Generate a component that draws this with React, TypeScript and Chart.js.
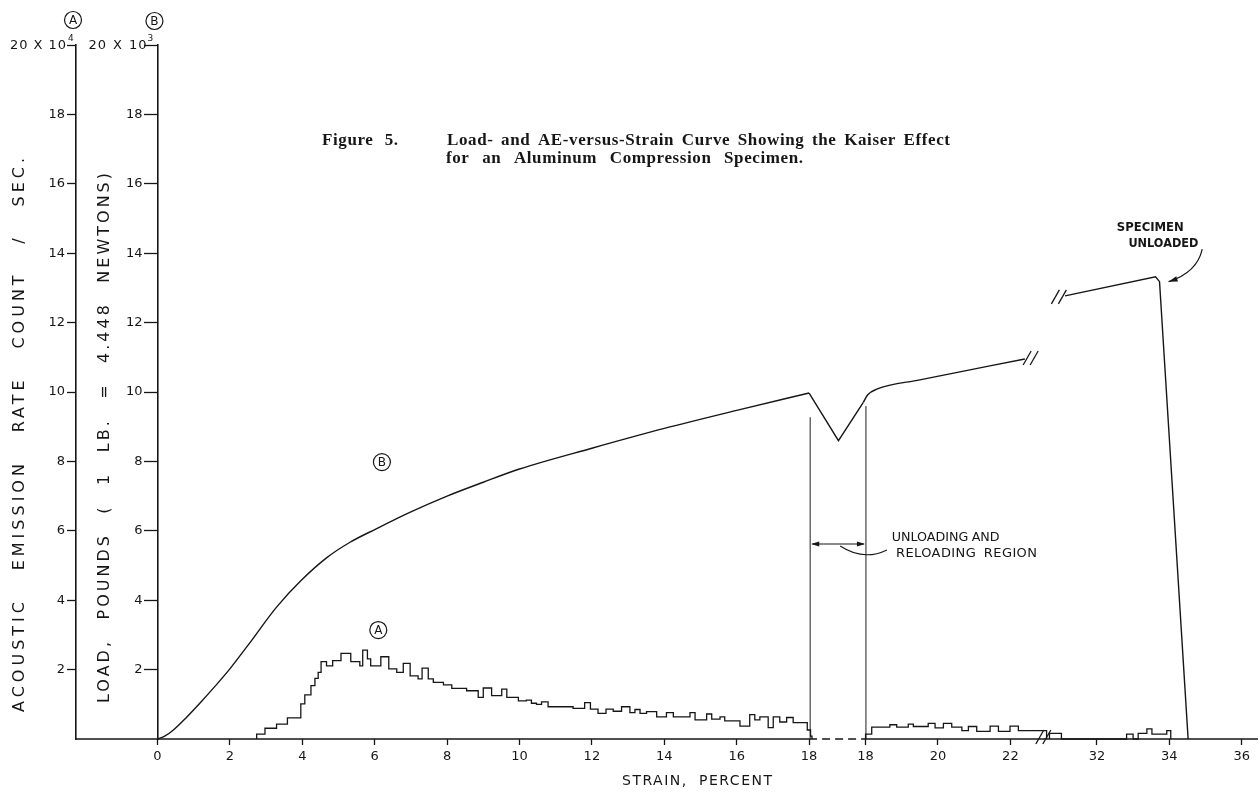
import React, { useEffect, useRef } from 'react';
import { Chart, registerables } from 'chart.js';

Chart.register(...registerables);

// ---------------- data ----------------
// Curve B: load, 10^3 lb, vs strain %, loading from 0 to 18 %
const loadStrainRise = [0, 0.2, 0.44, 0.8, 1.17, 1.6, 2.0, 2.55, 3.29, 3.98, 4.67, 5.32, 6.03, 6.97, 8.0, 9.0, 10, 12, 14, 16, 18];
const loadRise = [0, 0.08, 0.26, 0.62, 1.03, 1.53, 2.02, 2.77, 3.8, 4.58, 5.22, 5.67, 6.05, 6.53, 7.0, 7.4, 7.78, 8.38, 8.95, 9.47, 9.97];
// unloading / reloading window drawn at 18 % (position = fraction of the window)
const unloadFraction = [0, 0.52, 0.96];
const unloadLoad = [9.97, 8.6, 9.7];
// reloading, strain after the window
const reloadStrain = [18.06, 18.31, 19.5, 22.4];
const reloadLoad = [9.92, 10.08, 10.35, 10.95];
// after the axis break, until the specimen is unloaded
const finalStrain = [31.12, 33.62, 33.73, 34.52];
const finalLoad = [12.77, 13.32, 13.18, 0];

// Curve A: acoustic emission rate, 10^4 counts/sec (histogram: bin start strain, rate)
const aeStart1 = [2.74, 2.97, 3.29, 3.59, 3.96, 4.07, 4.24, 4.35, 4.44, 4.52, 4.67, 4.84, 5.07, 5.34, 5.59, 5.67, 5.8, 5.89, 6.17, 6.39, 6.61, 6.79, 6.98, 7.2, 7.31, 7.48, 7.62, 7.9, 8.13, 8.54, 8.86, 9.0, 9.23, 9.51, 9.65, 9.97, 10.19, 10.33, 10.47, 10.61, 10.79, 11.48, 11.8, 11.96, 12.17, 12.39, 12.59, 12.82, 13.05, 13.19, 13.33, 13.51, 13.79, 14.06, 14.25, 14.71, 14.85, 15.17, 15.31, 15.54, 15.67, 16.09, 16.36, 16.5, 16.64, 16.87, 17.01, 17.19, 17.38, 17.56, 17.95, 18.04];
const aeRate1 = [0.14, 0.31, 0.43, 0.61, 1.01, 1.27, 1.54, 1.75, 1.92, 2.23, 2.11, 2.26, 2.47, 2.23, 2.11, 2.56, 2.31, 2.11, 2.37, 2.02, 1.92, 2.18, 1.82, 1.73, 2.04, 1.73, 1.63, 1.56, 1.46, 1.39, 1.2, 1.47, 1.25, 1.44, 1.2, 1.1, 1.12, 1.03, 1.0, 1.07, 0.93, 0.88, 1.05, 0.86, 0.74, 0.86, 0.8, 0.93, 0.76, 0.85, 0.74, 0.79, 0.64, 0.76, 0.64, 0.76, 0.55, 0.72, 0.57, 0.64, 0.52, 0.37, 0.7, 0.55, 0.64, 0.33, 0.64, 0.49, 0.62, 0.47, 0.26, 0.08];
const aeEnd1 = 18.08;
const aeStart2 = [18.0, 18.17, 18.67, 18.86, 19.18, 19.32, 19.73, 19.92, 20.15, 20.38, 20.66, 20.84, 21.07, 21.44, 21.67, 21.99, 22.22];
const aeRate2 = [0.14, 0.34, 0.41, 0.34, 0.43, 0.36, 0.45, 0.32, 0.45, 0.34, 0.24, 0.36, 0.22, 0.37, 0.22, 0.37, 0.24];
const aeEnd2 = 23.0;
const aeStart3 = [30.69, 31.02, 32.82, 33.0, 33.14, 33.38, 33.52, 33.93];
const aeRate3 = [0.16, 0, 0.14, 0, 0.16, 0.29, 0.14, 0.24];
const aeEnd3 = 34.04;

// tick labels of the broken strain axis
const xTicksPre = [0, 2, 4, 6, 8, 10, 12, 14, 16, 18];
const xTicksPost = [18, 20, 22];
const xTicksLate = [32, 34, 36];
const yTicks = [2, 4, 6, 8, 10, 12, 14, 16, 18, 20];

// unloading markers (strain, top of the line in load units)
const markerPre = { strain: 18.03, top: 9.27 };
const markerPost = { strain: 18.01, top: 9.6 };

// ---------------- broken axis mapping ----------------
const WINDOW = 1.56; // axis room given to the unloading/reloading window
const SKIP = 6.05; // strain removed by the break after 23 %
type Part = 'pre' | 'window' | 'post' | 'late';
function ax(v: number, part: Part): number {
  if (part === 'pre') return v;
  if (part === 'window') return 18 + v * WINDOW;
  if (part === 'post') return v + WINDOW;
  return v - SKIP;
}
const X_MIN = -2.25;
const X_MAX = 30.4;

const INK = '#161616';
const LETTER = 'DejaVu Sans';
const SERIF = '"Liberation Serif"';

const pts = (xs: number[], ys: number[], part: Part) => xs.map((v, i) => ({ x: ax(v, part), y: ys[i] }));
function histogram(starts: number[], rates: number[], end: number, part: Part) {
  const out = [{ x: ax(starts[0], part), y: 0 }];
  starts.forEach((s, i) => out.push({ x: ax(s, part), y: rates[i] }));
  out.push({ x: ax(end, part), y: rates[rates.length - 1] });
  out.push({ x: ax(end, part), y: 0 });
  return out;
}

const xTickValues = [
  ...xTicksPre.map((v) => ax(v, 'pre')),
  ...xTicksPost.map((v) => ax(v, 'post')),
  ...xTicksLate.map((v) => ax(v, 'late')),
];
const xTickLabels = [...xTicksPre, ...xTicksPost, ...xTicksLate].map(String);

const unloadPts = pts(unloadFraction, unloadLoad, 'window');
const base = { borderColor: INK, borderWidth: 1.4, pointRadius: 0, fill: false, clip: false as any };

const datasets: any[] = [
  { ...base, yAxisID: 'yB', data: pts(loadStrainRise, loadRise, 'pre'), cubicInterpolationMode: 'monotone', tension: 0.4 },
  { ...base, yAxisID: 'yB', data: unloadPts, tension: 0 },
  { ...base, yAxisID: 'yB', data: [unloadPts[unloadPts.length - 1], ...pts(reloadStrain, reloadLoad, 'post')], cubicInterpolationMode: 'monotone', tension: 0.4 },
  { ...base, yAxisID: 'yB', data: pts(finalStrain, finalLoad, 'late'), tension: 0 },
  { ...base, yAxisID: 'yA', data: histogram(aeStart1, aeRate1, aeEnd1, 'pre'), stepped: 'before', borderWidth: 1.3 },
  { ...base, yAxisID: 'yA', data: histogram(aeStart2, aeRate2, aeEnd2, 'post'), stepped: 'before', borderWidth: 1.3 },
  { ...base, yAxisID: 'yA', data: histogram(aeStart3, aeRate3, aeEnd3, 'late'), stepped: 'before', borderWidth: 1.3 },
  // strain axis line (dashed across the unloading window)
  { ...base, yAxisID: 'yA', data: [{ x: X_MIN, y: 0 }, { x: ax(18, 'pre'), y: 0 }], borderWidth: 1.7 },
  { ...base, yAxisID: 'yA', data: [{ x: ax(18, 'pre'), y: 0 }, { x: ax(18, 'post'), y: 0 }], borderWidth: 1.5, borderDash: [8, 5] },
  { ...base, yAxisID: 'yA', data: [{ x: ax(18, 'post'), y: 0 }, { x: X_MAX, y: 0 }], borderWidth: 1.7 },
  // unloading / reloading region markers
  { ...base, yAxisID: 'yB', data: [{ x: ax(markerPre.strain, 'pre'), y: 0 }, { x: ax(markerPre.strain, 'pre'), y: markerPre.top }], borderWidth: 1.1, borderColor: '#333' },
  { ...base, yAxisID: 'yB', data: [{ x: ax(markerPost.strain, 'post'), y: 0 }, { x: ax(markerPost.strain, 'post'), y: markerPost.top }], borderWidth: 1.1, borderColor: '#333' },
];

// ---------------- drawing helpers ----------------
// Draws text from `left` so that it spans `width`: letters get `ls` px of spacing,
// the remaining room goes to the gaps between words; compressed if it would not fit.
function fitText(ctx: CanvasRenderingContext2D, text: string, left: number, y: number, width: number, font: string, ls = 0) {
  ctx.save();
  ctx.font = font;
  (ctx as any).letterSpacing = '0px';
  ctx.textAlign = 'left';
  ctx.textBaseline = 'middle';
  const words = text.split(' ').filter((w) => w.length > 0);
  const ww = words.map((w) => ctx.measureText(w).width + ls * (w.length - 1));
  const total = ww.reduce((a, b) => a + b, 0);
  const minGap = ctx.measureText(' ').width * 0.8;
  let gap = words.length > 1 ? (width - total) / (words.length - 1) : 0;
  let scale = 1;
  if (words.length > 1 && gap < minGap) {
    gap = minGap;
    scale = width / (total + gap * (words.length - 1));
  } else if (words.length === 1 && total > width) {
    scale = width / total;
  }
  ctx.translate(left, y);
  ctx.scale(scale, 1);
  (ctx as any).letterSpacing = ls + 'px';
  let x = 0;
  words.forEach((w, i) => {
    ctx.fillText(w, x, 0);
    x += ww[i] + gap;
  });
  ctx.restore();
}
function arrowHead(ctx: CanvasRenderingContext2D, x: number, y: number, ang: number, len = 8, half = 2.6) {
  ctx.beginPath();
  ctx.moveTo(x, y);
  ctx.lineTo(x - len * Math.cos(ang) + half * Math.sin(ang), y - len * Math.sin(ang) - half * Math.cos(ang));
  ctx.lineTo(x - len * Math.cos(ang) - half * Math.sin(ang), y - len * Math.sin(ang) + half * Math.cos(ang));
  ctx.closePath();
  ctx.fill();
}
function circled(ctx: CanvasRenderingContext2D, letter: string, x: number, y: number) {
  ctx.beginPath();
  ctx.arc(x, y, 8.5, 0, Math.PI * 2);
  ctx.lineWidth = 1.2;
  ctx.stroke();
  ctx.font = `12px ${LETTER}`;
  ctx.textAlign = 'center';
  ctx.textBaseline = 'middle';
  ctx.fillText(letter, x, y + 0.5);
}
function slashes(ctx: CanvasRenderingContext2D, x: number, y: number) {
  ctx.lineWidth = 1.3;
  for (const dx of [-3.5, 3.5]) {
    ctx.beginPath();
    ctx.moveTo(x + dx - 4, y + 7);
    ctx.lineTo(x + dx + 4, y - 7);
    ctx.stroke();
  }
}

const annotate = {
  id: 'annotate',
  afterDraw(chart: any) {
    const { ctx, chartArea, scales } = chart;
    const X = (u: number) => scales.x.getPixelForValue(u);
    const Y = (v: number) => scales.yA.getPixelForValue(v);
    ctx.save();
    ctx.fillStyle = INK;
    ctx.strokeStyle = INK;

    // B-axis tick labels (axis drawn at strain 0)
    const bx = X(0);
    ctx.font = `13px ${LETTER}`;
    ctx.textAlign = 'right';
    ctx.textBaseline = 'middle';
    yTicks.filter((v) => v !== 20).forEach((v) => ctx.fillText(String(v), bx - 15, Y(v)));

    // axis top labels
    const top = Y(20);
    fitText(ctx, '20 X 10', chartArea.left - 66, top + 1, 56, `13px ${LETTER}`, 1);
    fitText(ctx, '4', chartArea.left - 8, top - 6, 6, `9px ${LETTER}`);
    fitText(ctx, '20 X 10', bx - 69, top + 1, 58, `13px ${LETTER}`, 1);
    fitText(ctx, '3', bx - 10, top - 6, 6, `9px ${LETTER}`);
    circled(ctx, 'A', chartArea.left - 3, 20);
    circled(ctx, 'B', bx - 3, 21);

    // axis titles
    ctx.save();
    ctx.translate(20, 435);
    ctx.rotate(-Math.PI / 2);
    fitText(ctx, 'ACOUSTIC EMISSION RATE COUNT / SEC.', -277, 0, 554, `16px ${LETTER}`, 4);
    ctx.restore();
    ctx.save();
    ctx.translate(105, 438);
    ctx.rotate(-Math.PI / 2);
    fitText(ctx, 'LOAD, POUNDS ( 1 LB. = 4.448 NEWTONS)', -265, 0, 530, `16px ${LETTER}`, 3);
    ctx.restore();
    fitText(ctx, 'STRAIN, PERCENT', 622, 781, 150, `14px ${LETTER}`, 1.5);

    // figure caption
    fitText(ctx, 'Figure 5.', 322, 141, 76, `bold 17px ${SERIF}`, 0.6);
    fitText(ctx, 'Load- and AE-versus-Strain Curve Showing the Kaiser Effect', 447, 141, 503, `bold 17px ${SERIF}`, 0.6);
    fitText(ctx, 'for an Aluminum Compression Specimen.', 446, 159, 357, `bold 17px ${SERIF}`, 0.6);

    // curve labels
    circled(ctx, 'B', X(6.2), Y(7.98));
    circled(ctx, 'A', X(6.1), Y(3.14));

    // unloading / reloading region
    const xl = X(ax(markerPre.strain, 'pre'));
    const xr = X(ax(markerPost.strain, 'post'));
    const ya = Y(5.62);
    ctx.lineWidth = 1.1;
    ctx.beginPath();
    ctx.moveTo(xl + 2, ya);
    ctx.lineTo(xr - 2, ya);
    ctx.stroke();
    arrowHead(ctx, xl + 1, ya, Math.PI);
    arrowHead(ctx, xr - 1, ya, 0);
    ctx.beginPath();
    ctx.moveTo(X(18.86), Y(5.56));
    ctx.quadraticCurveTo(X(19.5), Y(5.12), X(20.15), Y(5.45));
    ctx.stroke();
    fitText(ctx, 'UNLOADING AND', X(20.28), Y(5.81), 108, `13px ${LETTER}`);
    fitText(ctx, 'RELOADING REGION', X(20.4), Y(5.33), 141, `13px ${LETTER}`, 0.4);

    // specimen unloaded
    fitText(ctx, 'SPECIMEN', X(26.5), Y(14.73), 67, `bold 12px ${LETTER}`);
    fitText(ctx, 'UNLOADED', X(26.82), Y(14.27), 70, `bold 12px ${LETTER}`);
    const s0x = X(28.86), s0y = Y(14.12);
    const cx = X(28.72), cy = Y(13.45);
    const ex = X(27.93), ey = Y(13.18);
    ctx.lineWidth = 1.2;
    ctx.beginPath();
    ctx.moveTo(s0x, s0y);
    ctx.quadraticCurveTo(cx, cy, ex, ey);
    ctx.stroke();
    arrowHead(ctx, ex, ey, Math.atan2(ey - cy, ex - cx), 9, 2.8);

    // axis-break marks
    slashes(ctx, X(24.12), Y(10.98));
    slashes(ctx, X(24.9), Y(12.74));
    slashes(ctx, X(24.47), Y(0) - 2);
    ctx.restore();
  },
};

export default function App() {
  const ref = useRef<HTMLCanvasElement>(null);
  useEffect(() => {
    document.body.style.margin = '0';
    const chart = new Chart(ref.current as HTMLCanvasElement, {
      type: 'line',
      data: { datasets },
      options: {
        animation: false,
        responsive: true,
        maintainAspectRatio: false,
        events: [],
        layout: { padding: { top: 45, right: 2, left: 0, bottom: 0 } },
        plugins: { legend: { display: false }, tooltip: { enabled: false } },
        scales: {
          x: {
            type: 'linear',
            min: X_MIN,
            max: X_MAX,
            afterBuildTicks: (s: any) => { s.ticks = xTickValues.map((value) => ({ value })); },
            afterFit: (s: any) => { s.height = 54; },
            ticks: {
              autoSkip: false,
              maxRotation: 0,
              padding: 4,
              color: INK,
              font: { family: LETTER, size: 13 },
              callback: (_v: any, i: number) => xTickLabels[i],
            },
            grid: { drawOnChartArea: false, drawTicks: true, tickLength: 6, color: INK, tickColor: INK, tickWidth: 1.3 },
            border: { display: false },
          },
          yA: {
            type: 'linear',
            position: 'left',
            min: 0,
            max: 20,
            afterBuildTicks: (s: any) => { s.ticks = yTicks.map((value) => ({ value })); },
            afterFit: (s: any) => { s.width = 76; },
            ticks: {
              padding: 2,
              color: INK,
              font: { family: LETTER, size: 13 },
              callback: (v: any) => (v === 20 ? '' : String(v)),
            },
            grid: { drawOnChartArea: false, tickLength: 9, color: INK, tickColor: INK, tickWidth: 1.3 },
            border: { display: true, color: INK, width: 1.6 },
          },
          yB: {
            type: 'linear',
            position: { x: 0 } as any,
            min: 0,
            max: 20,
            afterBuildTicks: (s: any) => { s.ticks = yTicks.map((value) => ({ value })); },
            ticks: { display: false },
            grid: { drawOnChartArea: false, tickLength: 13, color: INK, tickColor: INK, tickWidth: 1.3 },
            border: { display: true, color: INK, width: 1.6 },
          },
        },
      } as any,
      plugins: [annotate],
    });
    return () => chart.destroy();
  }, []);
  return (
    <div style={{ width: 1260, height: 793, position: 'relative', background: '#fff' }}>
      <canvas ref={ref} />
    </div>
  );
}
